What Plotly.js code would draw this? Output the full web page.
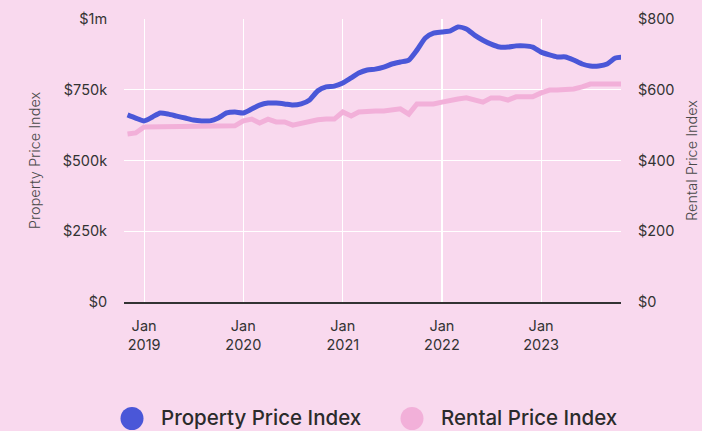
<!DOCTYPE html>
<html>
<head>
<meta charset="utf-8">
<script src="https://cdn.plot.ly/plotly-3.0.1.min.js"></script>
<style>html,body{margin:0;padding:0;background:#F9D9EE;}</style>
</head>
<body>
<div id="chart" style="width:702px;height:431px;"></div>
<script>
// Monthly observations, Nov 2018 .. Nov 2023
const months = [
 '2018-11-01','2018-12-01',
 '2019-01-01','2019-02-01','2019-03-01','2019-04-01','2019-05-01','2019-06-01','2019-07-01','2019-08-01','2019-09-01','2019-10-01','2019-11-01','2019-12-01',
 '2020-01-01','2020-02-01','2020-03-01','2020-04-01','2020-05-01','2020-06-01','2020-07-01','2020-08-01','2020-09-01','2020-10-01','2020-11-01','2020-12-01',
 '2021-01-01','2021-02-01','2021-03-01','2021-04-01','2021-05-01','2021-06-01','2021-07-01','2021-08-01','2021-09-01','2021-10-01','2021-11-01','2021-12-01',
 '2022-01-01','2022-02-01','2022-03-01','2022-04-01','2022-05-01','2022-06-01','2022-07-01','2022-08-01','2022-09-01','2022-10-01','2022-11-01','2022-12-01',
 '2023-01-01','2023-02-01','2023-03-01','2023-04-01','2023-05-01','2023-06-01','2023-07-01','2023-08-01','2023-09-01','2023-10-01','2023-11-01'
];
const propertyPrice = [
 661000,650000,
 640000,654000,668000,664000,657000,650000,643000,640000,640000,650000,668000,671000,
 668000,682000,696000,703000,703000,700000,696000,700000,714000,746000,760000,763000,
 774000,792000,809000,820000,823000,830000,841000,848000,855000,890000,933000,950000,
 954000,958000,972000,965000,943000,925000,911000,901000,901000,905000,905000,901000,
 883000,873000,866000,866000,855000,841000,834000,834000,841000,862000,866000
];
const rentalPrice = [
 475,478,
 495,495,495,498,498,498,498,498,495,498,498,498,
 512,517,506,517,509,509,500,506,509,515,517,517,
 537,526,537,540,540,540,543,546,531,560,560,560,
 565,571,574,577,571,565,577,577,571,580,580,580,
 591,599,599,599,602,608,616,616,616,616,616
];
const leftTickVals = [0,250000,500000,750000,1000000];
const leftTickText = ['$0','$250k','$500k','$750k','$1m'];
const rightTickVals = [0,200,400,600,800];
const rightTickText = ['$0','$200','$400','$600','$800'];
const xTickVals = ['2019-01-01','2020-01-01','2021-01-01','2022-01-01','2023-01-01'];
const xTickText = ['Jan<br>2019','Jan<br>2020','Jan<br>2021','Jan<br>2022','Jan<br>2023'];
const seriesNames = ['Property Price Index','Rental Price Index'];
const seriesColors = ['#4A57D8','#F2B0D9'];

const FONT = 'Inter, "Liberation Sans", sans-serif';
const TXT = '#333333';

const traces = [
 {x: months, y: rentalPrice, name: seriesNames[1], yaxis: 'y2', type: 'scatter', mode: 'lines',
  line: {color: seriesColors[1], width: 5}, hoverinfo: 'skip'},
 {x: months, y: propertyPrice, name: seriesNames[0], yaxis: 'y', type: 'scatter', mode: 'lines',
  line: {color: seriesColors[0], width: 5, shape: 'spline', smoothing: 0.6}, hoverinfo: 'skip'}
];

const legTop = 407, legBot = 430, legMid = 417.5;
const layout = {
 width: 702, height: 431,
 paper_bgcolor: '#F9D9EE', plot_bgcolor: '#F9D9EE',
 margin: {l: 124, r: 81, t: 19, b: 129},
 showlegend: false,
 font: {family: FONT, color: TXT, size: 14},
 xaxis: {
  type: 'date', range: ['2018-10-19','2023-10-22'],
  tickvals: xTickVals, ticktext: xTickText,
  showgrid: true, gridcolor: '#FFFFFF', gridwidth: 1.2,
  showline: true, linecolor: '#333333', linewidth: 1.5,
  zeroline: false, ticks: 'outside', ticklen: 10, tickcolor: 'rgba(0,0,0,0)',
  tickfont: {family: FONT, size: 14.5, color: TXT}, fixedrange: true
 },
 yaxis: {
  range: [0, 1000000], tickvals: leftTickVals, ticktext: leftTickText,
  showgrid: true, gridcolor: '#FFFFFF', gridwidth: 1.2, zeroline: false,
  ticks: 'outside', ticklen: 13, tickcolor: 'rgba(0,0,0,0)',
  tickfont: {family: FONT, size: 14.5, color: TXT},
  title: {text: 'Property Price Index', font: {family: FONT, size: 14.5, color: '#4a4a4a', weight: 300}, standoff: 18},
  automargin: false, fixedrange: true
 },
 yaxis2: {
  overlaying: 'y', side: 'right', range: [0, 800],
  tickvals: rightTickVals, ticktext: rightTickText,
  showgrid: false, zeroline: false,
  ticks: 'outside', ticklen: 13, tickcolor: 'rgba(0,0,0,0)',
  tickfont: {family: FONT, size: 14.5, color: TXT},
  title: {text: 'Rental Price Index', font: {family: FONT, size: 14.5, color: '#4a4a4a', weight: 300}, standoff: 12},
  automargin: false, fixedrange: true
 },
 shapes: [
  {type: 'circle', xref: 'paper', yref: 'paper', x0: (120.5-124)/497, x1: (143.5-124)/497,
   y0: (302-legBot)/283, y1: (302-legTop)/283, fillcolor: seriesColors[0], line: {width: 0}},
  {type: 'circle', xref: 'paper', yref: 'paper', x0: (400.5-124)/497, x1: (423.5-124)/497,
   y0: (302-legBot)/283, y1: (302-legTop)/283, fillcolor: seriesColors[1], line: {width: 0}}
 ],
 annotations: [
  {text: seriesNames[0], xref: 'paper', yref: 'paper', x: (159-124)/497, y: (302-legMid)/283,
   xanchor: 'left', yanchor: 'middle', showarrow: false,
   font: {family: FONT, size: 20.5, color: '#2b2b2b', weight: 500}},
  {text: seriesNames[1], xref: 'paper', yref: 'paper', x: (439-124)/497, y: (302-legMid)/283,
   xanchor: 'left', yanchor: 'middle', showarrow: false,
   font: {family: FONT, size: 20.5, color: '#2b2b2b', weight: 500}}
 ]
};

Plotly.newPlot('chart', traces, layout, {displayModeBar: false, staticPlot: true});
</script>
</body>
</html>
